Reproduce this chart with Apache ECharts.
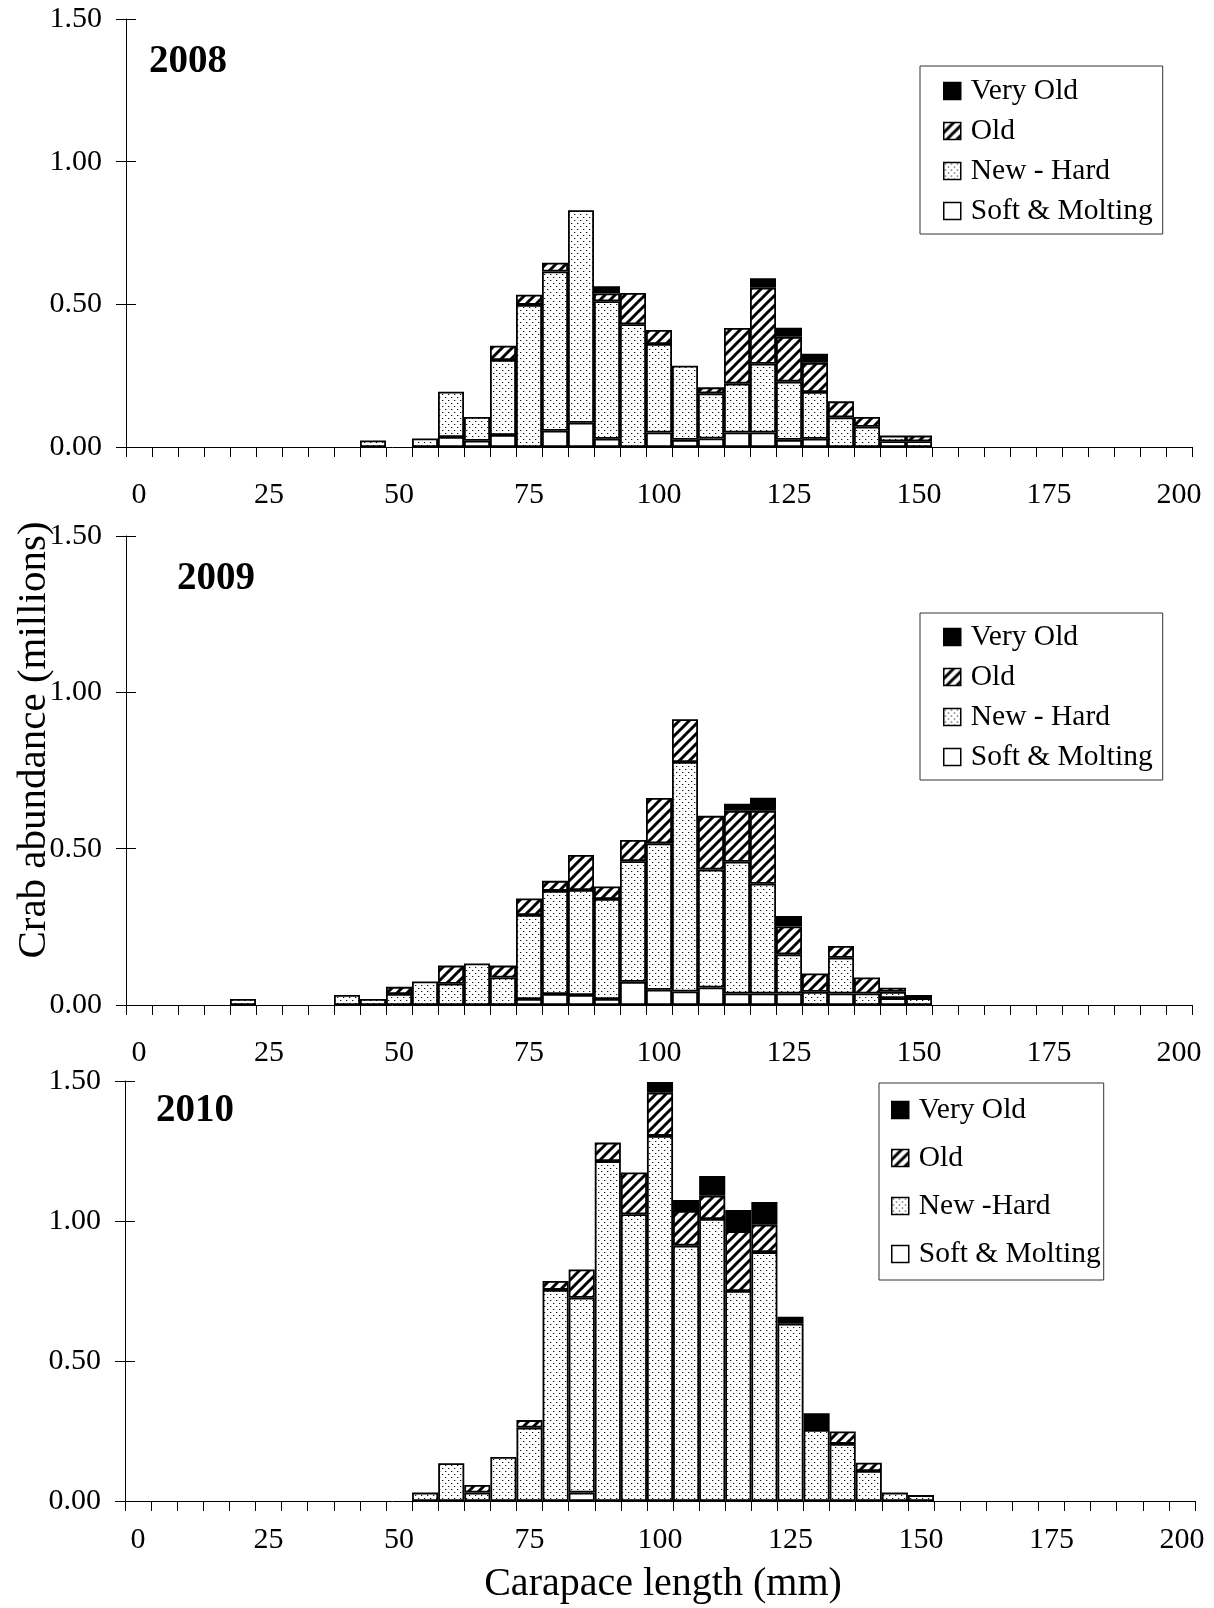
<!DOCTYPE html>
<html>
<head>
<meta charset="utf-8">
<script src="https://cdn.jsdelivr.net/npm/echarts@6/dist/echarts.min.js"></script>
<style>
  html, body { margin: 0; padding: 0; background: #fff; }
  #chart { width: 1214px; height: 1608px; }
</style>
</head>
<body>
<div id="chart"></div>
<script>
// carapace length bins (mm), category axis ticks
var categories = ["0","5","10","15","20","25","30","35","40","45","50","55","60","65","70","75","80","85","90","95",
  "100","105","110","115","120","125","130","135","140","145","150","155","160","165","170","175","180","185","190","195","200"];
var bins = ["20","25","30","35","40","45","50","55","60","65","70","75","80","85","90","95",
  "100","105","110","115","120","125","130","135","140","145","150"];
var yTicks = [0, 0.5, 1.0, 1.5];

// 2008 (millions)
var soft08 = [0,0,0,0,0,0,0,0,0.035,0.022,0.042,0,0.057,0.085,0.029,0,0.051,0.025,0.030,0.051,0.051,0.025,0.029,0,0,0.020,0];
var new08  = [0,0,0,0,0,0.023,0,0.030,0.159,0.083,0.263,0.498,0.558,0.745,0.482,0.430,0.310,0.260,0.158,0.171,0.241,0.204,0.164,0.104,0.071,0.020,0.020];
var old08  = [0,0,0,0,0,0,0,0,0,0,0.050,0.036,0.031,0,0.027,0.110,0.049,0,0.021,0.195,0.266,0.157,0.102,0.056,0.034,0,0.020];
var vold08 = [0,0,0,0,0,0,0,0,0,0,0,0,0,0,0.025,0,0,0,0,0,0.033,0.032,0.032,0,0,0,0];

// 2009
var soft09 = [0,0,0,0,0,0,0,0,0,0,0,0.019,0.035,0.032,0.019,0.074,0.049,0.043,0.056,0.037,0.037,0.037,0,0.037,0,0.022,0];
var new09  = [0.019,0,0,0,0.032,0.019,0.035,0.075,0.068,0.133,0.088,0.269,0.330,0.336,0.320,0.386,0.468,0.734,0.377,0.421,0.351,0.125,0.042,0.114,0.037,0.020,0.022];
var old09  = [0,0,0,0,0,0,0.023,0,0.058,0,0.038,0.053,0.032,0.112,0.040,0.068,0.145,0.137,0.172,0.163,0.233,0.089,0.059,0.038,0.051,0.013,0.010];
var vold09 = [0,0,0,0,0,0,0,0,0,0,0,0,0,0,0,0,0,0,0,0.023,0.042,0.034,0,0,0,0,0];

// 2010
var soft10 = [0,0,0,0,0,0,0,0,0,0,0,0,0,0.030,0,0,0,0,0,0,0,0,0,0,0,0,0];
var new10  = [0,0,0,0,0,0,0,0.030,0.135,0.030,0.157,0.262,0.754,0.696,1.214,1.024,1.304,0.912,1.007,0.750,0.889,0.633,0.254,0.204,0.107,0.030,0.021];
var old10  = [0,0,0,0,0,0,0,0,0,0.027,0,0.027,0.032,0.101,0.066,0.149,0.154,0.124,0.083,0.214,0.098,0,0,0.044,0.030,0,0];
var vold10 = [0,0,0,0,0,0,0,0,0,0,0,0,0,0,0,0,0.038,0.039,0.071,0.075,0.081,0.025,0.059,0,0,0,0];

var years = ["2008", "2009", "2010"];
var names = ["Very Old", "Old", "New - Hard", "Soft & Molting"];
var names10 = ["Very Old", "Old", "New -Hard", "Soft & Molting"];

var FONT = "Liberation Serif";

// fill patterns
function dotPattern() {
  var c = document.createElement("canvas");
  c.width = 6; c.height = 6;
  var g = c.getContext("2d");
  g.fillStyle = "#fff"; g.fillRect(0, 0, 6, 6);
  g.fillStyle = "#111";
  g.fillRect(1, 1, 1, 1);
  g.fillRect(4, 4, 1, 1);
  g.fillStyle = "#bbb";
  g.fillRect(2, 1, 1, 1);
  g.fillRect(5, 4, 1, 1);
  return c;
}
function hatchPattern() {
  var s = 10;
  var c = document.createElement("canvas");
  c.width = s; c.height = s;
  var g = c.getContext("2d");
  g.fillStyle = "#fff"; g.fillRect(0, 0, s, s);
  g.strokeStyle = "#000"; g.lineWidth = 3;
  g.beginPath();
  g.moveTo(-1, s + 1); g.lineTo(s + 1, -1);
  g.moveTo(-s / 2 - 1, s / 2 + 1); g.lineTo(s / 2 + 1, -s / 2 - 1);
  g.moveTo(s / 2 - 1, s * 1.5 + 1); g.lineTo(s * 1.5 + 1, s / 2 - 1);
  g.stroke();
  return c;
}
var fills = {
  soft: "#fff",
  news: { image: dotPattern(), repeat: "repeat" },
  old: { image: hatchPattern(), repeat: "repeat" },
  vold: "#000"
};

function pairs(arr) {
  return bins.map(function (b, i) { return [b, arr[i]]; }).filter(function (d) { return d[1] > 0; });
}

var panels = [
  { soft: soft08, news: new08, old: old08, vold: vold08, names: names,
    grid: { left: 126, top: 19, width: 1066, height: 428 }, labelMargin: 33,
    title: { left: 149, top: 42 }, legend: { left: 920, top: 66, gap: 10, pad: [10, 10, 8, 23] } },
  { soft: soft09, news: new09, old: old09, vold: vold09, names: names,
    grid: { left: 126, top: 536, width: 1066, height: 469 }, labelMargin: 33,
    title: { left: 177, top: 559 }, legend: { left: 920, top: 613, gap: 10, pad: [9, 10, 8, 23] } },
  { soft: soft10, news: new10, old: old10, vold: vold10, names: names10,
    grid: { left: 125, top: 1081, width: 1070, height: 420 }, labelMargin: 24,
    title: { left: 156, top: 1091 }, legend: { left: 879, top: 1083, gap: 18, pad: [12, 3, 11, 12] } }
];

var option = {
  animation: false,
  backgroundColor: "#fff",
  title: [],
  legend: [],
  grid: [],
  xAxis: [],
  yAxis: [],
  series: [],
  graphic: [
    { type: "text", x: 34, y: 740, rotation: Math.PI / 2,
      style: { text: "Crab abundance (millions)", font: "41px '" + FONT + "'", fill: "#000",
               align: "center", verticalAlign: "middle" } },
    { type: "text", x: 663, y: 1584,
      style: { text: "Carapace length (mm)", font: "40px '" + FONT + "'", fill: "#000",
               align: "center", verticalAlign: "middle" } }
  ]
};

panels.forEach(function (p, k) {
  option.grid.push(Object.assign({ containLabel: false }, p.grid));
  option.title.push({
    text: years[k], left: p.title.left, top: p.title.top, padding: 0,
    textStyle: { fontFamily: FONT, fontSize: 39, fontWeight: "bold", color: "#000" }
  });
  option.legend.push({
    data: p.names.slice(),
    orient: "vertical",
    left: p.legend.left, top: p.legend.top,
    padding: p.legend.pad,
    itemGap: p.legend.gap,
    itemWidth: 17, itemHeight: 17,
    icon: "rect",
    borderColor: "#333", borderWidth: 1,
    backgroundColor: "#fff",
    itemStyle: { borderColor: "#000", borderWidth: 1.5 },
    textStyle: { fontFamily: FONT, fontSize: 29.5, color: "#000", padding: [0, 0, 0, 5] },
    selectedMode: false
  });
  option.xAxis.push({
    type: "category", gridIndex: k, data: categories, boundaryGap: true,
    axisLine: { lineStyle: { color: "#000", width: 1 } },
    axisTick: { show: true, interval: 0, length: 10, lineStyle: { color: "#000" } },
    axisLabel: { interval: 4, margin: p.labelMargin, fontFamily: FONT, fontSize: 30, color: "#000" },
    splitLine: { show: false }
  });
  option.yAxis.push({
    type: "value", gridIndex: k, min: yTicks[0], max: yTicks[yTicks.length - 1], interval: 0.5,
    axisLine: { show: true, lineStyle: { color: "#000", width: 1 } },
    axisTick: { show: true, length: 10, lineStyle: { color: "#000" } },
    axisLabel: { margin: 24, fontFamily: FONT, fontSize: 30, color: "#000",
                 formatter: function (v) { return v.toFixed(2); } },
    splitLine: { show: false }
  });
  // inner half of the crossing y ticks
  option.yAxis.push({
    type: "value", gridIndex: k, position: "left", min: yTicks[0], max: yTicks[yTicks.length - 1], interval: 0.5,
    axisLine: { show: false },
    axisTick: { show: true, inside: true, length: 10, lineStyle: { color: "#000" } },
    axisLabel: { show: false },
    splitLine: { show: false }
  });

  var layers = [
    { name: p.names[3], data: p.soft, color: fills.soft },
    { name: p.names[2], data: p.news, color: fills.news },
    { name: p.names[1], data: p.old, color: fills.old },
    { name: p.names[0], data: p.vold, color: fills.vold }
  ];
  layers.forEach(function (l) {
    option.series.push({
      type: "bar", name: l.name, stack: "panel" + k,
      xAxisIndex: k, yAxisIndex: k * 2,
      barCategoryGap: "0%",
      data: pairs(l.data),
      itemStyle: { color: l.color, borderColor: "#000", borderWidth: 1.8 },
      emphasis: { disabled: true },
      silent: true
    });
  });
});

var chart = echarts.init(document.getElementById("chart"), null, { renderer: "canvas" });
chart.setOption(option);
</script>
</body>
</html>
